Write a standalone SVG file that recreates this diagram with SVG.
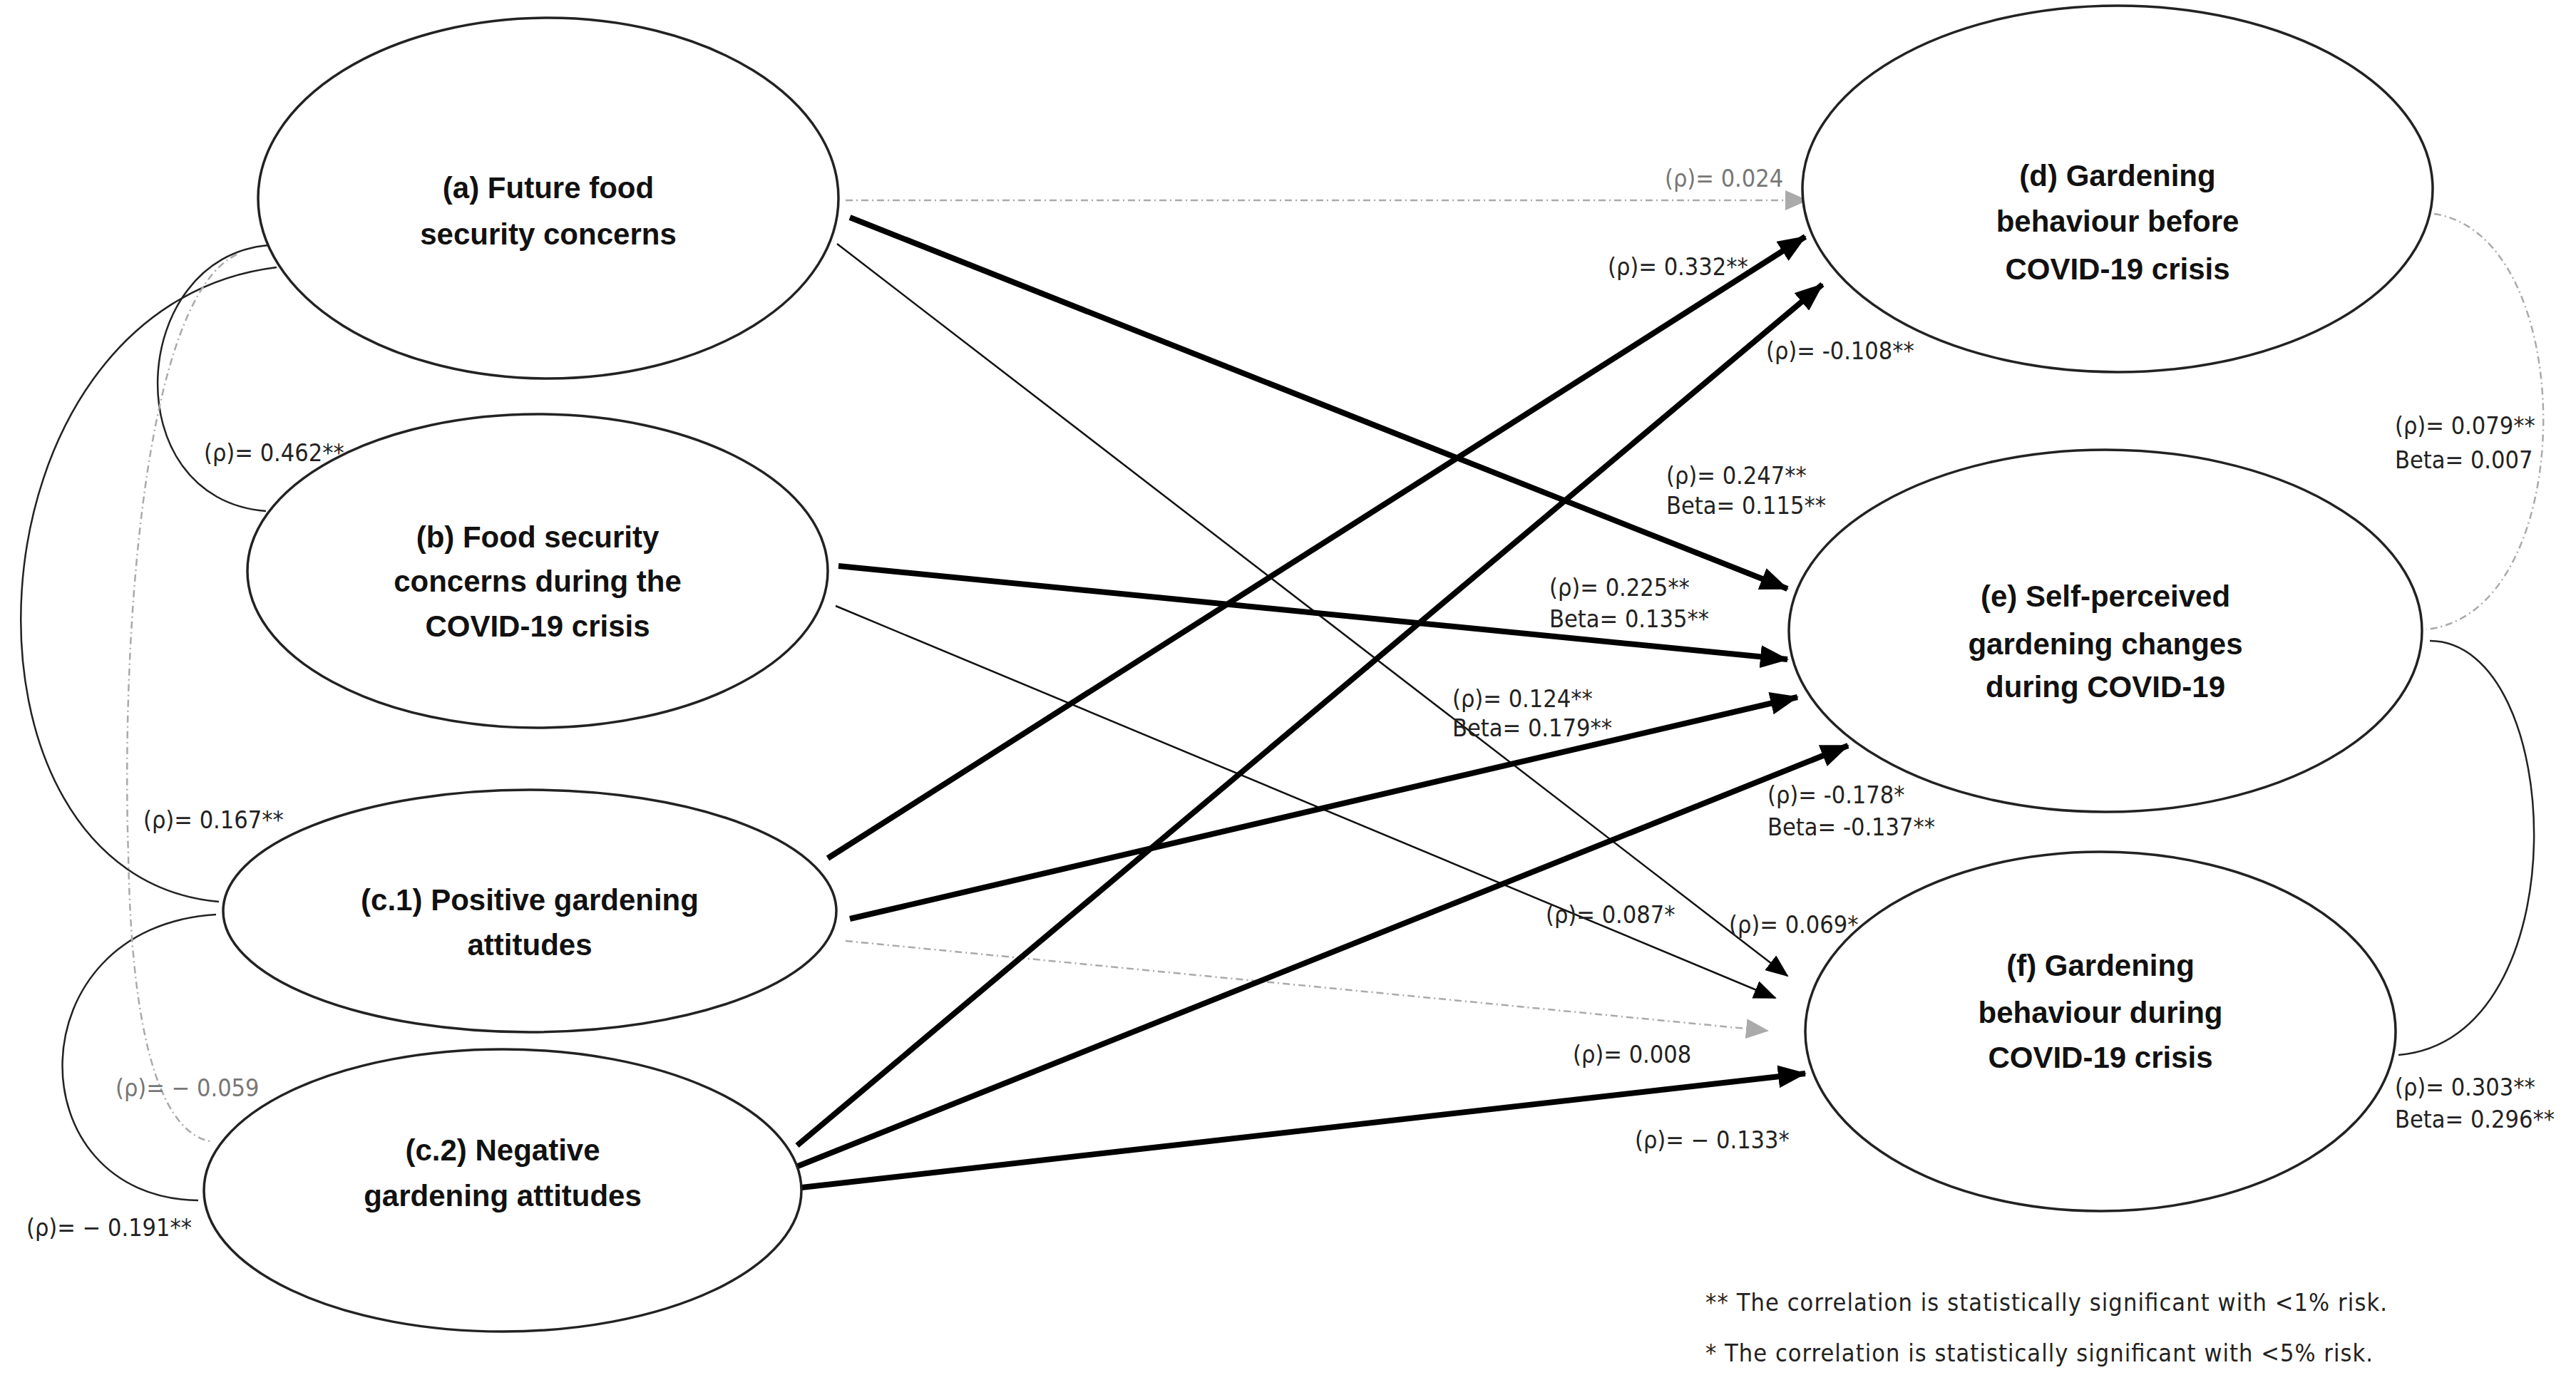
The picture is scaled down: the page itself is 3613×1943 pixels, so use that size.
<svg xmlns="http://www.w3.org/2000/svg" width="3613" height="1943" viewBox="0 0 3613 1943">
<style>
.node{fill:#fff;stroke:#222;stroke-width:3.5}
.nt{font-family:"Liberation Sans",Arial,sans-serif;font-weight:bold;font-size:42px;fill:#111;text-anchor:middle}
.lb{font-family:"Liberation Sans Narrow","DejaVu Sans Condensed","Liberation Sans",sans-serif;font-size:34px;fill:#222}
.gr{fill:#777}
.thick{stroke:#000;stroke-width:8;fill:none}
.thin{stroke:#111;stroke-width:2.5;fill:none}
.dd{stroke:#aaa;stroke-width:2.5;fill:none;stroke-dasharray:10 5 2 5}
.curve{stroke:#222;stroke-width:2.5;fill:none}
</style>
<defs>
<marker id="ah" markerUnits="userSpaceOnUse" markerWidth="40" markerHeight="32" refX="38" refY="16" orient="auto"><path d="M0,0 L40,16 L0,32 z" fill="#000"/></marker>
<marker id="ahs" markerUnits="userSpaceOnUse" markerWidth="32" markerHeight="26" refX="30" refY="13" orient="auto"><path d="M0,0 L32,13 L0,26 z" fill="#000"/></marker>
<marker id="ahg" markerUnits="userSpaceOnUse" markerWidth="32" markerHeight="28" refX="30" refY="14" orient="auto"><path d="M0,0 L32,14 L0,28 z" fill="#aaa"/></marker>
</defs>
<rect width="3613" height="1943" fill="#fff"/>
<g id="connectors">
<path class="curve" d="M377,344 C180,360 160,700 373,717"/>
<path class="curve" d="M388,375 C-60,430 -90,1230 307,1265"/>
<path class="curve" d="M303,1283 C20,1300 20,1680 278,1684"/>
<path class="dd" d="M332,357 C200,420 170,900 180,1200 C185,1500 240,1590 294,1601"/>
<path class="dd" d="M3414,300 C3620,330 3620,860 3403,883"/>
<path class="curve" d="M3408,899 C3600,900 3620,1460 3364,1480"/>
<line class="dd" x1="1186" y1="281" x2="2534" y2="281" marker-end="url(#ahg)"/>
<line class="thick" x1="1192" y1="305" x2="2507" y2="826" marker-end="url(#ah)"/>
<line class="thin" x1="1174" y1="342" x2="2507" y2="1369" marker-end="url(#ahs)"/>
<line class="thick" x1="1176" y1="794" x2="2507" y2="925" marker-end="url(#ah)"/>
<line class="thin" x1="1172" y1="850" x2="2490" y2="1400" marker-end="url(#ahs)"/>
<line class="thick" x1="1161" y1="1204" x2="2532" y2="332" marker-end="url(#ah)"/>
<line class="thick" x1="1192" y1="1289" x2="2521" y2="978" marker-end="url(#ah)"/>
<line class="dd" x1="1186" y1="1320" x2="2479" y2="1446" marker-end="url(#ahg)"/>
<line class="thick" x1="1118" y1="1607" x2="2556" y2="399" marker-end="url(#ah)"/>
<line class="thick" x1="1119" y1="1636" x2="2592" y2="1046" marker-end="url(#ah)"/>
<line class="thick" x1="1124" y1="1666" x2="2532" y2="1506" marker-end="url(#ah)"/>
</g>
<g id="node-a"><ellipse class="node" cx="769" cy="278" rx="407" ry="253"/><text class="nt" x="769" y="278">(a) Future food</text><text class="nt" x="769" y="343">security concerns</text></g>
<g id="node-b"><ellipse class="node" cx="754" cy="801" rx="407" ry="220"/><text class="nt" x="754" y="768">(b) Food security</text><text class="nt" x="754" y="830">concerns during the</text><text class="nt" x="754" y="893">COVID-19 crisis</text></g>
<g id="node-c1"><ellipse class="node" cx="743" cy="1278" rx="430" ry="170"/><text class="nt" x="743" y="1277">(c.1) Positive gardening</text><text class="nt" x="743" y="1340">attitudes</text></g>
<g id="node-c2"><ellipse class="node" cx="705" cy="1670" rx="419" ry="198"/><text class="nt" x="705" y="1628">(c.2) Negative</text><text class="nt" x="705" y="1692">gardening attitudes</text></g>
<g id="node-d"><ellipse class="node" cx="2970" cy="265" rx="442" ry="257"/><text class="nt" x="2970" y="261">(d) Gardening</text><text class="nt" x="2970" y="325">behaviour before</text><text class="nt" x="2970" y="392">COVID-19 crisis</text></g>
<g id="node-e"><ellipse class="node" cx="2953" cy="885" rx="444" ry="254"/><text class="nt" x="2953" y="851">(e) Self-perceived</text><text class="nt" x="2953" y="918">gardening changes</text><text class="nt" x="2953" y="978">during COVID-19</text></g>
<g id="node-f"><ellipse class="node" cx="2946" cy="1447" rx="414" ry="252"/><text class="nt" x="2946" y="1369">(f) Gardening</text><text class="nt" x="2946" y="1435">behaviour during</text><text class="nt" x="2946" y="1498">COVID-19 crisis</text></g>
<g id="labels">
<text class="lb gr" x="2335" y="262">(ρ)= 0.024</text>
<text class="lb" x="2255" y="386">(ρ)= 0.332**</text>
<text class="lb" x="2477" y="504">(ρ)= -0.108**</text>
<text class="lb" x="3359" y="609">(ρ)= 0.079**</text><text class="lb" x="3359" y="657">Beta= 0.007</text>
<text class="lb" x="2337" y="679">(ρ)= 0.247**</text><text class="lb" x="2337" y="721">Beta= 0.115**</text>
<text class="lb" x="2173" y="836">(ρ)= 0.225**</text><text class="lb" x="2173" y="880">Beta= 0.135**</text>
<text class="lb" x="2037" y="992">(ρ)= 0.124**</text><text class="lb" x="2037" y="1033">Beta= 0.179**</text>
<text class="lb" x="2479" y="1127">(ρ)= -0.178*</text><text class="lb" x="2479" y="1172">Beta= -0.137**</text>
<text class="lb" x="2168" y="1295">(ρ)= 0.087*</text>
<text class="lb" x="2425" y="1309">(ρ)= 0.069*</text>
<text class="lb" x="2206" y="1491">(ρ)= 0.008</text>
<text class="lb" x="2293" y="1611">(ρ)= − 0.133*</text>
<text class="lb" x="3359" y="1537">(ρ)= 0.303**</text><text class="lb" x="3359" y="1582">Beta= 0.296**</text>
<text class="lb" x="286" y="647">(ρ)= 0.462**</text>
<text class="lb" x="201" y="1162">(ρ)= 0.167**</text>
<text class="lb gr" x="162" y="1538">(ρ)= − 0.059</text>
<text class="lb" x="37" y="1734">(ρ)= − 0.191**</text>
<text class="lb" x="2392" y="1839" textLength="956">** The correlation is statistically significant with &lt;1% risk.</text>
<text class="lb" x="2392" y="1910" textLength="936">* The correlation is statistically significant with &lt;5% risk.</text>
</g>
</svg>
